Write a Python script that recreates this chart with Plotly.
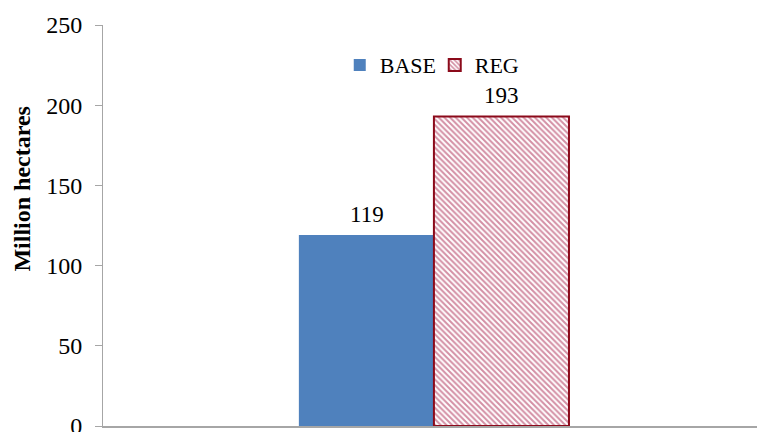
import plotly.graph_objects as go

categories = ["2030"]
base_values = [119]
reg_values = [193]
y_ticks = [0, 50, 100, 150, 200, 250]
y_title = "Million hectares"

font_family = "Liberation Serif, Times New Roman, serif"

fig = go.Figure()
fig.add_trace(go.Bar(
    x=categories, y=base_values, name="BASE",
    marker=dict(color="#4F81BD", line=dict(width=0)),
))
fig.add_trace(go.Bar(
    x=categories, y=reg_values, name="REG",
    marker=dict(color="#FFFFFF",
                line=dict(color="#8B0A1A", width=2),
                pattern=dict(shape="\\", fgcolor="#A8204A", bgcolor="#FFFFFF",
                             size=4, solidity=0.5, fillmode="overlay")),
))

# data labels above bars
for vals, shift in ((base_values, -67), (reg_values, 68)):
    for i, v in enumerate(vals):
        fig.add_annotation(x=i, y=v, text=str(v), showarrow=False,
                           xref="x", yref="y", xshift=shift, yshift=6,
                           yanchor="bottom", xanchor="center",
                           font=dict(size=23, family=font_family, color="#000000"))

# y axis title
fig.add_annotation(x=0, y=148, xref="paper", yref="y", xshift=-81,
                   text="<b>" + y_title + "</b>", textangle=-90, showarrow=False,
                   xanchor="center", yanchor="middle",
                   font=dict(size=24, family=font_family, color="#000000"))

fig.update_layout(
    width=757, height=432,
    margin=dict(l=103, r=0, t=25, b=6, autoexpand=False),
    paper_bgcolor="white", plot_bgcolor="white",
    barmode="group", bargap=0.587, bargroupgap=0,
    font=dict(family=font_family, color="#000000"),
    showlegend=True,
    legend=dict(orientation="h", x=0.362, y=0.9, xanchor="left", yanchor="middle",
                font=dict(size=22, family=font_family),
                bgcolor="rgba(0,0,0,0)", itemwidth=30, tracegroupgap=0,
                entrywidth=50, entrywidthmode="pixels"),
    yaxis=dict(range=[0, 250], tickvals=y_ticks, showgrid=False,
               showline=True, linecolor="#A6A6A6", linewidth=1,
               ticks="outside", ticklen=7, tickcolor="#A6A6A6",
               tickfont=dict(size=24, family=font_family),
               ticklabelstandoff=8, ticklabeloverflow="allow",
               automargin=False, zeroline=False),
    xaxis=dict(showline=True, linecolor="#A6A6A6", linewidth=2, showticklabels=False,
               ticks="", showgrid=False, range=[-0.506, 0.494], automargin=False),
)

fig.write_html("out.html", config={"displayModeBar": False},
               post_script="document.body.style.margin='0';")
